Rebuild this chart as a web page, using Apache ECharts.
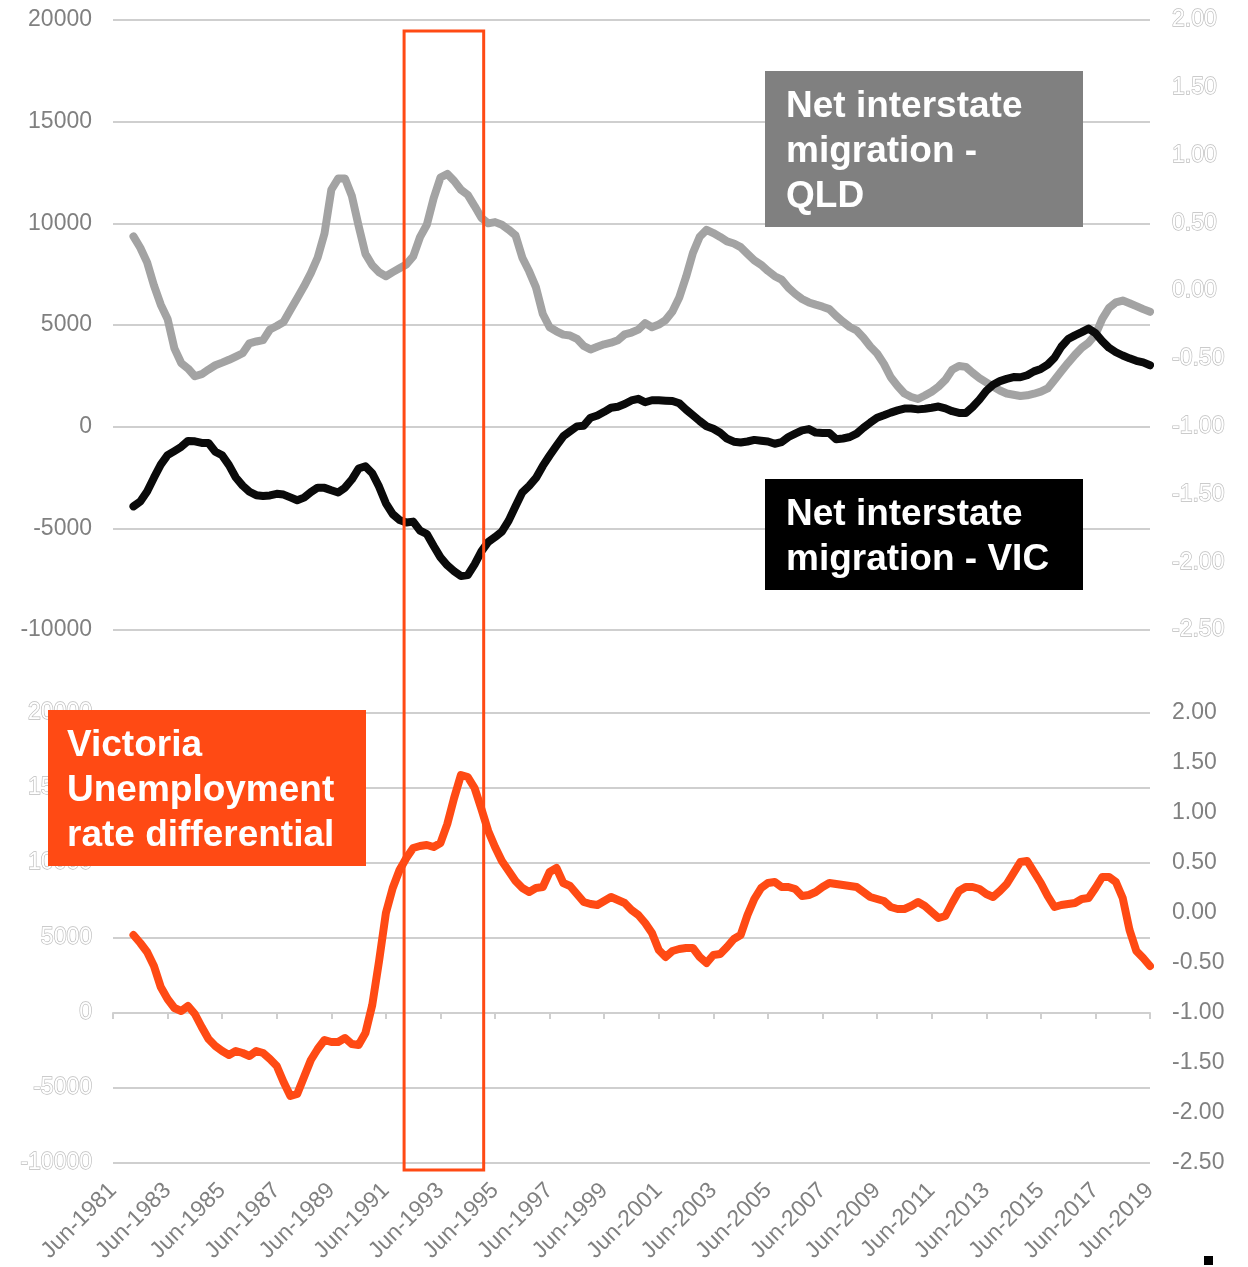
<!DOCTYPE html>
<html><head><meta charset="utf-8">
<script src="https://cdn.jsdelivr.net/npm/echarts@6/dist/echarts.min.js"></script>
<style>html,body{margin:0;padding:0;background:#fff}#c{width:1248px;height:1267px}</style>
</head><body><div id="c"></div><script>
// Quarterly observations, first one Mar-1982 (months counted from Jun-1981)
const firstQuarterMonth = 9;
const axisFirstYear = 1981;     // x axis starts Jun-1981
const axisMaxMonth = 456;       // Jun-2019
const labelStepMonths = 24;     // every two years

// Net interstate migration - QLD (persons)
const qld = [9360,8800,8080,6950,6000,5300,3850,3130,2860,2480,2580,2810,3020,3150,3290,3450,3610,4100,4190,4260,
4780,4950,5150,5740,6320,6900,7550,8320,9500,11650,12200,12210,11360,9880,8500,7940,7590,7400,7600,7790,
7980,8370,9320,9930,11230,12250,12430,12090,11650,11400,10850,10270,10000,10060,9930,9690,9410,8310,7640,6850,
5540,4890,4690,4525,4480,4320,3970,3800,3930,4050,4130,4250,4540,4630,4770,5090,4890,5020,5240,5660,
6350,7370,8540,9340,9680,9520,9330,9110,9010,8830,8500,8180,7960,7660,7400,7230,6830,6530,6280,6110,
6000,5900,5780,5450,5160,4900,4730,4370,3940,3600,3090,2430,2000,1630,1460,1360,1530,1720,1970,2300,
2800,2980,2940,2650,2390,2180,1970,1780,1630,1570,1510,1540,1620,1720,1880,2300,2720,3140,3530,3880,
4130,4520,5300,5840,6110,6200,6070,5930,5780,5650];

// Net interstate migration - VIC (persons)
const vic = [-3920,-3680,-3190,-2510,-1870,-1400,-1200,-990,-700,-720,-800,-800,-1230,-1410,-1890,-2500,-2900,-3200,-3370,-3410,
-3380,-3300,-3340,-3480,-3620,-3490,-3220,-3000,-3010,-3130,-3240,-3000,-2600,-2060,-1950,-2290,-2950,-3770,-4300,-4590,
-4710,-4670,-5110,-5280,-5870,-6430,-6820,-7110,-7350,-7300,-6770,-6130,-5670,-5430,-5160,-4620,-3910,-3230,-2910,-2520,
-1930,-1420,-940,-475,-230,15,50,440,550,730,930,980,1110,1290,1370,1200,1300,1300,1280,1260,
1150,840,560,280,20,-100,-300,-590,-740,-780,-730,-650,-690,-730,-840,-760,-510,-340,-180,-120,
-290,-310,-310,-620,-580,-510,-340,-55,200,440,560,690,800,890,890,850,880,930,990,900,
760,675,675,970,1330,1760,2060,2240,2350,2440,2430,2530,2720,2840,3050,3390,3930,4310,4490,4650,
4820,4600,4210,3880,3660,3500,3360,3240,3160,3020];

// Victoria unemployment rate differential (percentage points)
const unemp = [-0.22,-0.30,-0.39,-0.53,-0.74,-0.86,-0.95,-0.98,-0.93,-1.01,-1.14,-1.26,-1.33,-1.38,-1.42,-1.38,-1.40,-1.43,-1.38,-1.40,
-1.46,-1.53,-1.69,-1.83,-1.81,-1.64,-1.47,-1.36,-1.27,-1.29,-1.29,-1.25,-1.31,-1.32,-1.20,-0.92,-0.48,0.00,0.25,0.43,
0.55,0.65,0.67,0.68,0.66,0.70,0.89,1.15,1.38,1.36,1.25,1.04,0.82,0.66,0.52,0.42,0.32,0.25,0.21,0.25,
0.26,0.41,0.45,0.30,0.27,0.19,0.11,0.09,0.08,0.12,0.16,0.13,0.10,0.03,-0.02,-0.10,-0.20,-0.37,-0.44,-0.38,
-0.36,-0.35,-0.35,-0.44,-0.50,-0.42,-0.41,-0.34,-0.26,-0.22,-0.02,0.14,0.25,0.30,0.31,0.26,0.26,0.24,0.17,0.18,
0.21,0.26,0.30,0.29,0.28,0.27,0.26,0.21,0.16,0.14,0.12,0.06,0.04,0.04,0.07,0.11,0.07,0.01,-0.05,-0.03,
0.10,0.22,0.26,0.26,0.24,0.19,0.16,0.22,0.29,0.40,0.51,0.52,0.41,0.30,0.17,0.06,0.08,0.09,0.10,0.14,
0.15,0.25,0.36,0.36,0.31,0.15,-0.17,-0.38,-0.45,-0.53];

// Highlighted period (months from Jun-1981)
const highlightStart = 128;
const highlightEnd = 163;

const labelsQLD = 'Net interstate\nmigration -\nQLD';
const labelsVIC = 'Net interstate\nmigration - VIC';
const labelsUnemp = 'Victoria\nUnemployment\nrate differential';

const months = qld.map((_, i) => firstQuarterMonth + 3 * i);
const pairs = arr => arr.map((v, i) => [months[i], v]);

const FONT = '"Liberation Sans", Arial, sans-serif';
const GRAY = '#808080';
const GRID = '#cfcfcf';
const ORANGE = '#ff4a14';

const grayLabel = {color: GRAY, fontSize: 23, fontFamily: FONT};
const ghostLabel = {color: '#ffffff', textBorderColor: '#bdbdbd', textBorderWidth: 1.3, fontSize: 23, fontFamily: FONT};
const plain = v => String(v);

const chart = echarts.init(document.getElementById('c'), null, {renderer: 'canvas'});
const xBase = {type: 'value', min: 0, max: axisMaxMonth, interval: labelStepMonths, splitLine: {show: false}};
chart.setOption({
  animation: false,
  backgroundColor: '#fff',
  grid: [
    {left: 113, right: 98, top: 20, height: 610},
    {left: 113, right: 98, top: 713, height: 450}
  ],
  xAxis: [
    Object.assign({}, xBase, {gridIndex: 0, axisLine: {show: false}, axisTick: {show: false}, axisLabel: {show: false}}),
    Object.assign({}, xBase, {gridIndex: 1, axisLine: {show: true, onZero: true, onZeroAxisIndex: 2, lineStyle: {color: GRID, width: 2}},
      axisTick: {show: true, length: 6, lineStyle: {color: GRID, width: 2}}, axisLabel: {show: false}}),
    Object.assign({}, xBase, {gridIndex: 1, position: 'bottom', axisLine: {show: false, onZero: false}, axisTick: {show: false},
      axisLabel: {show: true, rotate: 45, margin: 24, color: GRAY, fontSize: 23, fontFamily: FONT, showMinLabel: true, showMaxLabel: true,
        formatter: v => 'Jun-' + (axisFirstYear + v / 12)}})
  ],
  yAxis: [
    {gridIndex: 0, type: 'value', position: 'left', min: -10000, max: 20000, interval: 5000,
      axisLine: {show: false}, axisTick: {show: false}, axisLabel: Object.assign({margin: 21, formatter: plain}, grayLabel),
      splitLine: {show: true, lineStyle: {color: GRID, width: 2}}},
    {gridIndex: 0, type: 'value', position: 'right', min: -2.5, max: 2, interval: 0.5,
      axisLine: {show: false}, axisTick: {show: false}, splitLine: {show: false},
      axisLabel: Object.assign({margin: 22, formatter: v => v.toFixed(2)}, ghostLabel)},
    {gridIndex: 1, type: 'value', position: 'left', min: -10000, max: 20000, interval: 5000,
      axisLine: {show: false}, axisTick: {show: false}, axisLabel: Object.assign({margin: 21, formatter: plain}, ghostLabel),
      splitLine: {show: true, lineStyle: {color: GRID, width: 2}}},
    {gridIndex: 1, type: 'value', position: 'right', min: -2.5, max: 2, interval: 0.5,
      axisLine: {show: false}, axisTick: {show: false}, splitLine: {show: false},
      axisLabel: Object.assign({margin: 22, formatter: v => v.toFixed(2)}, grayLabel)}
  ],
  series: [
    {name: 'Net interstate migration - QLD', type: 'line', xAxisIndex: 0, yAxisIndex: 0, data: pairs(qld), showSymbol: false,
      lineStyle: {color: '#a3a3a3', width: 8, cap: 'round', join: 'round'}, itemStyle: {color: '#a3a3a3'}, z: 3},
    {name: 'Net interstate migration - VIC', type: 'line', xAxisIndex: 0, yAxisIndex: 0, data: pairs(vic), showSymbol: false,
      lineStyle: {color: '#0a0a0a', width: 8, cap: 'round', join: 'round'}, itemStyle: {color: '#0a0a0a'}, z: 4},
    {name: 'Victoria Unemployment rate differential', type: 'line', xAxisIndex: 1, yAxisIndex: 3, data: pairs(unemp), showSymbol: false,
      lineStyle: {color: ORANGE, width: 8, cap: 'round', join: 'round'}, itemStyle: {color: ORANGE}, z: 3}
  ]
});

const x0 = chart.convertToPixel({xAxisIndex: 0}, highlightStart);
const x1 = chart.convertToPixel({xAxisIndex: 0}, highlightEnd);
const boxFont = 'bold 37px ' + FONT;
chart.setOption({
  graphic: [
    {type: 'rect', z: 100, shape: {x: 765, y: 71, width: 318, height: 156}, style: {fill: '#808080'}},
    {type: 'text', z: 101, x: 786, y: 84, style: {text: labelsQLD, fill: '#fff', font: boxFont, lineHeight: 45}},
    {type: 'rect', z: 100, shape: {x: 765, y: 479, width: 318, height: 111}, style: {fill: '#000'}},
    {type: 'text', z: 101, x: 786, y: 492, style: {text: labelsVIC, fill: '#fff', font: boxFont, lineHeight: 45}},
    {type: 'rect', z: 100, shape: {x: 48, y: 710, width: 318, height: 156}, style: {fill: ORANGE}},
    {type: 'text', z: 101, x: 67, y: 723, style: {text: labelsUnemp, fill: '#fff', font: boxFont, lineHeight: 45}},
    {type: 'rect', z: 110, shape: {x: x0, y: 31, width: x1 - x0, height: 1139}, style: {fill: 'none', stroke: ORANGE, lineWidth: 3}},
    {type: 'rect', z: 110, shape: {x: 1204, y: 1256, width: 9, height: 9}, style: {fill: '#000'}}
  ]
});
</script></body></html>
